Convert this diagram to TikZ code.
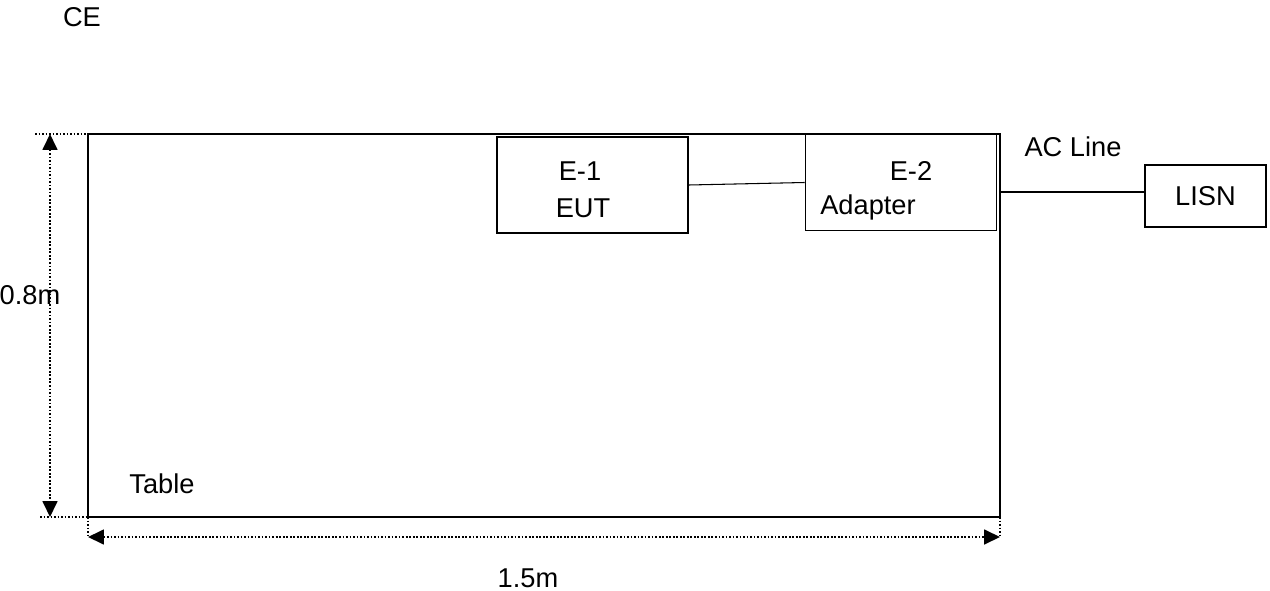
\documentclass[tikz,border=0pt]{standalone}
\usepackage{fontspec}
\setmainfont{Liberation Sans}
\usetikzlibrary{arrows.meta, positioning}

\begin{document}
\begin{tikzpicture}[
  x=0.02cm, y=-0.02cm,
  font=\fontsize{15.5}{18}\selectfont,
  % equipment boxes
  unit/.style={draw, line width=0.9pt, minimum width=3.82cm, minimum height=1.92cm, inner sep=0pt},
  lisnbox/.style={draw, line width=0.9pt, minimum width=2.42cm, minimum height=1.24cm, inner sep=0pt},
  % table outline
  tablebox/.style={draw, line width=1.1pt},
  % dimension lines
  dim/.style={densely dotted, line width=1pt},
  dimarr/.style={dim, {Triangle[length=3.2mm, width=3mm]}-{Triangle[length=3.2mm, width=3mm]}},
  cable/.style={line width=0.6pt},
  lbl/.style={inner sep=0pt},
]
\useasboundingbox (0,0) rectangle (1270,591);

% ── table ────────────────────────────────
\coordinate (tnw) at (88,134);
\coordinate (tse) at (1000,517);
\draw[tablebox] (tnw) rectangle (tse);
\node[lbl] (tablelbl) at (162,484) {Table};
\node[lbl] (ce) at (82,17) {CE};

% ── equipment ───────────────────────────
\node[unit] (eut) at (592.5,185) {};
\node[lbl] at (580,171) {E-1};
\node[lbl] at (583,208) {EUT};

\node[unit] (adapter) at (901,182.5) {};
\node[lbl] at (911,171) {E-2};
\node[lbl] at (868,207) {Adapter};

\node[lisnbox] (lisn) at (1205.5,196) {LISN};
\node[lbl] (acline) at (1073,147) {AC Line};

% ── cables ───────────────────────────────
\draw[cable] (eut.east) -- (adapter.west);
\coordinate (acout) at (1000,192);
\draw[cable] (acout) -- (acout -| lisn.west);

% ── dimensions ───────────────────────────
\coordinate (hl) at (50,134);
\coordinate (hb) at (50,517);
\draw[dim] (35,134) -- (tnw);
\draw[dim] (40,517) -- (110,517);
\draw[dimarr] (hl) -- (hb);
\node[lbl] (height) at (30,295) {0.8m};

\coordinate (wl) at (88,537);
\coordinate (wr) at (1000,537);
\draw[dim] (88,517) -- (wl);
\draw[dim] (tse) -- (wr);
\draw[dimarr] (wl) -- (wr);
\node[lbl] (width) at (528,578) {1.5m};

\end{tikzpicture}
\end{document}
